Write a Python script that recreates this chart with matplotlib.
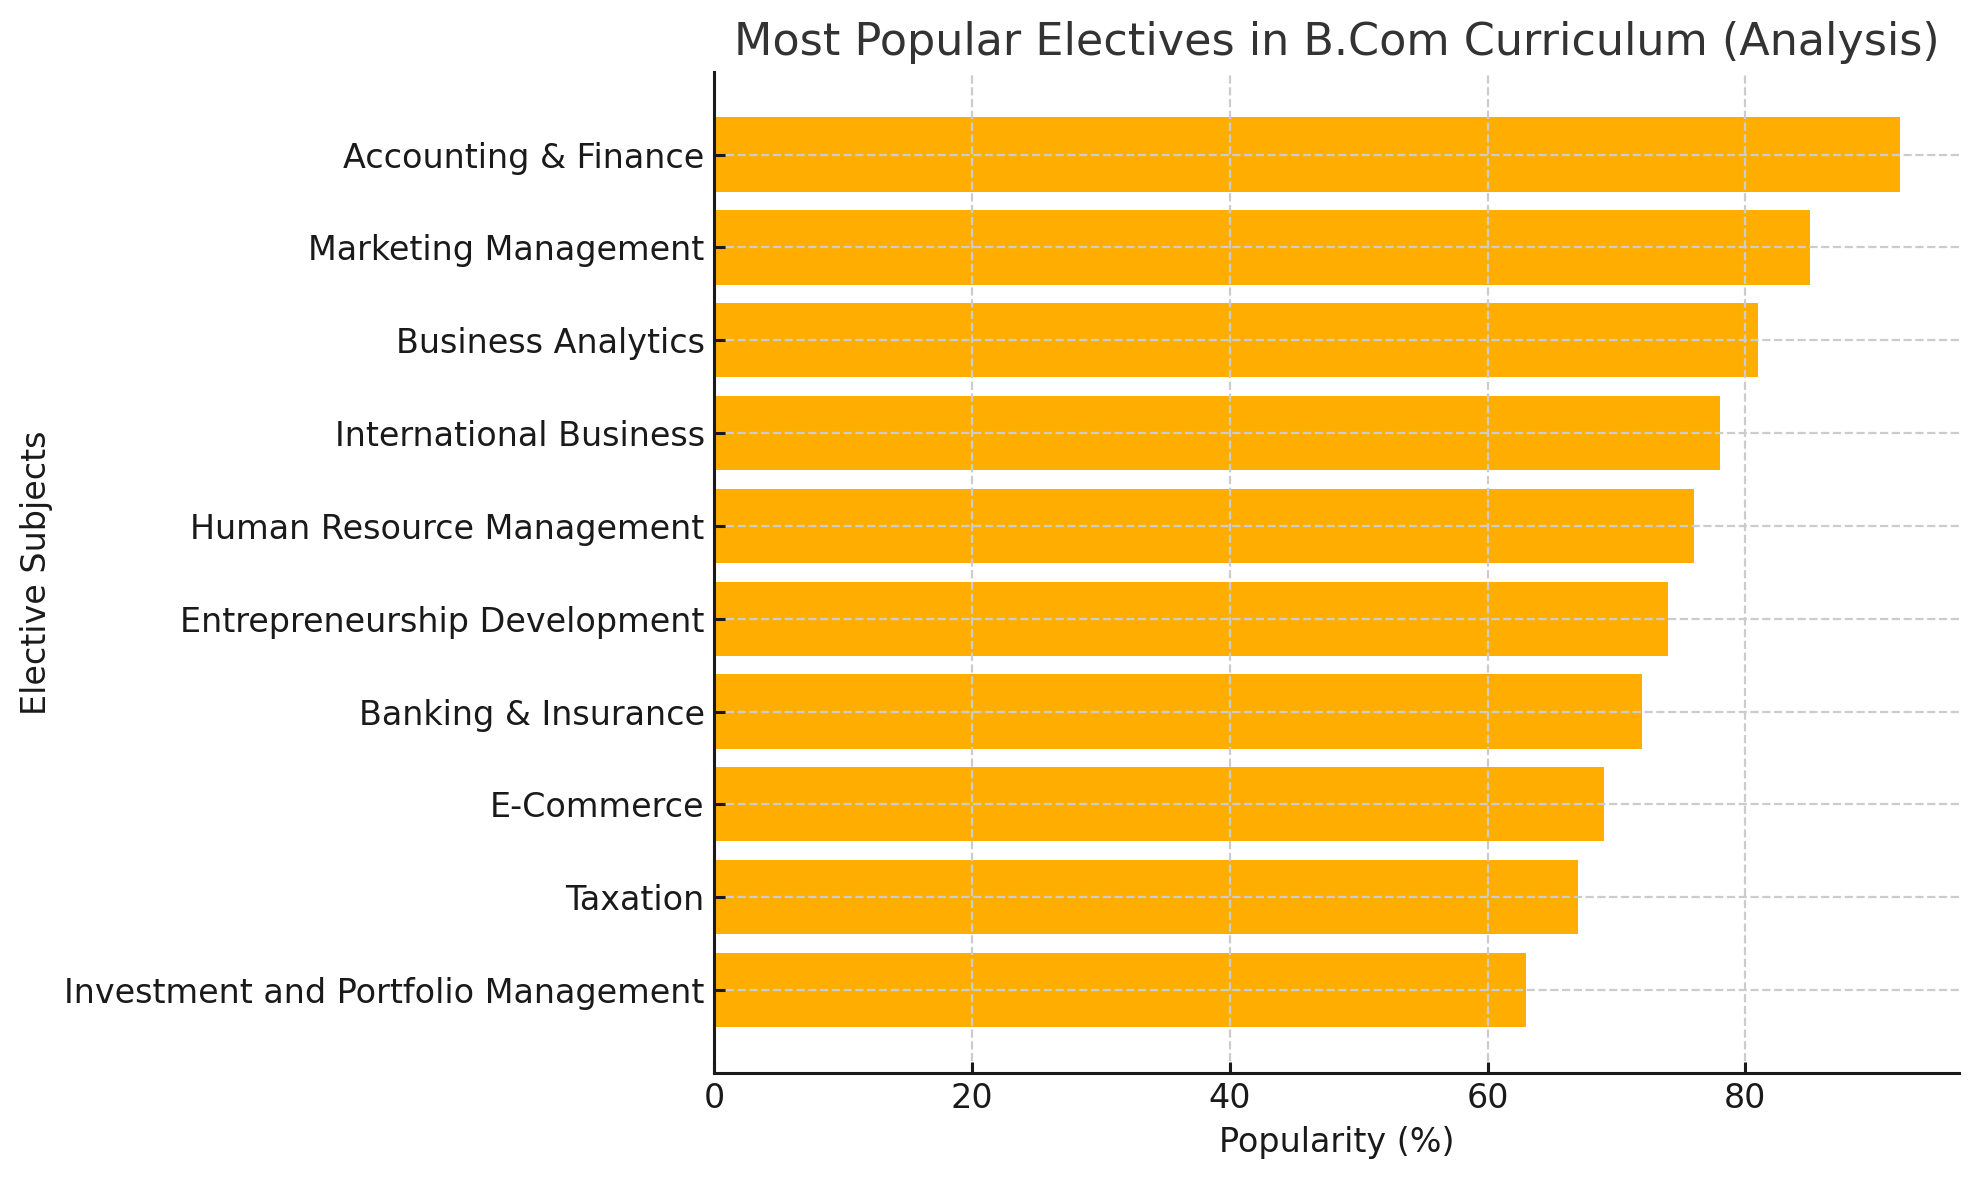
import matplotlib
matplotlib.use('Agg')
import matplotlib.pyplot as plt

electives = ['Accounting & Finance', 'Marketing Management', 'Business Analytics',
             'International Business', 'Human Resource Management',
             'Entrepreneurship Development', 'Banking & Insurance', 'E-Commerce',
             'Taxation', 'Investment and Portfolio Management']
popularity = [92, 85, 81, 78, 76, 74, 72, 69, 67, 63]

fig, ax = plt.subplots(figsize=(9.895, 5.9), dpi=200)
fig.subplots_adjust(left=0.361, right=0.99, top=0.939, bottom=0.091)

ax.barh(electives, popularity, color='#ffae00')
ax.invert_yaxis()

ax.set_title('Most Popular Electives in B.Com Curriculum (Analysis)', fontsize=16, color='#333333')
ax.set_xlabel('Popularity (%)', fontsize=12, color='#1a1a1a')
ax.set_ylabel('Elective Subjects', fontsize=12, color='#1a1a1a')
ax.tick_params(labelsize=12, direction='in', length=4, width=1.1,
               color='#1a1a1a', labelcolor='#1a1a1a')
ax.grid(True, linestyle='--', color='#cccccc', linewidth=0.8)
ax.set_axisbelow(False)
ax.spines['top'].set_visible(False)
ax.spines['right'].set_visible(False)
for side in ['left', 'bottom']:
    ax.spines[side].set_linewidth(1.1)
    ax.spines[side].set_color('#1a1a1a')
    ax.spines[side].set_zorder(3)

fig.savefig('out.png', dpi=200)
